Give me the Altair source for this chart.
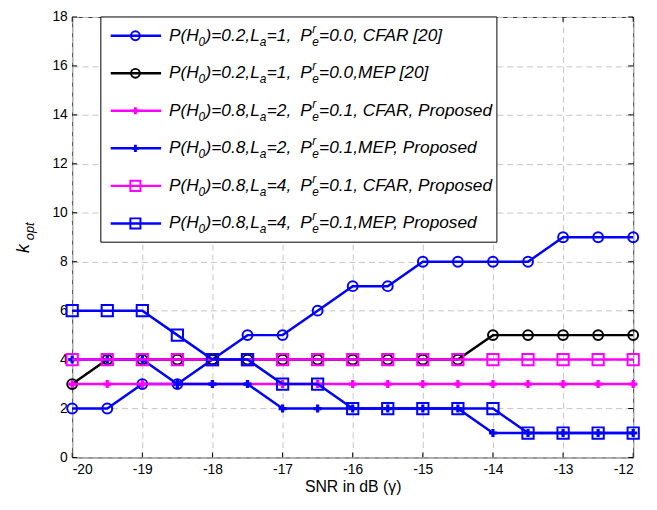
import altair as alt
import pandas as pd

# ---------------- data ----------------
snr = [-20, -19.5, -19, -18.5, -18, -17.5, -17, -16.5, -16, -15.5, -15,
       -14.5, -14, -13.5, -13, -12.5, -12]
k_cfar20 = [2, 2, 3, 3, 4, 5, 5, 6, 7, 7, 8, 8, 8, 8, 9, 9, 9]
k_mep20 = [3, 4, 4, 4, 4, 4, 4, 4, 4, 4, 4, 4, 5, 5, 5, 5, 5]
k_cfar_l2 = [3, 3, 3, 3, 3, 3, 3, 3, 3, 3, 3, 3, 3, 3, 3, 3, 3]
k_mep_l2 = [4, 4, 4, 3, 3, 3, 2, 2, 2, 2, 2, 2, 1, 1, 1, 1, 1]
k_cfar_l4 = [4, 4, 4, 4, 4, 4, 4, 4, 4, 4, 4, 4, 4, 4, 4, 4, 4]
k_mep_l4 = [6, 6, 6, 5, 4, 4, 3, 3, 2, 2, 2, 2, 2, 1, 1, 1, 1]

x_ticks = [-20, -19, -18, -17, -16, -15, -14, -13, -12]
y_ticks = [0, 2, 4, 6, 8, 10, 12, 14, 16, 18]

leg_ph0 = ["0.2", "0.2", "0.8", "0.8", "0.8", "0.8"]
leg_la = ["1", "1", "2", "2", "4", "4"]
leg_rest = ["0.0, CFAR [20]", "0.0,MEP [20]", "0.1, CFAR, Proposed",
            "0.1,MEP, Proposed", "0.1, CFAR, Proposed", "0.1,MEP, Proposed"]

series = [
    (k_cfar20, "#0000FF", "circle", False, 100),
    (k_mep20, "#000000", "circle", False, 100),
    (k_cfar_l2, "#FF00FF", "cross", True, 65),
    (k_mep_l2, "#0000FF", "cross", True, 65),
    (k_cfar_l4, "#FF00FF", "square", False, 130),
    (k_mep_l4, "#0000FF", "square", False, 130),
]

FONT = "Liberation Sans"
W, H = 568, 446

xscale = alt.Scale(domain=[-20, -12], nice=False, zero=False)
yscale = alt.Scale(domain=[0, 18], nice=False, zero=False)

X = alt.X("snr:Q", scale=xscale,
          axis=alt.Axis(values=x_ticks, title="SNR in dB (\u03b3)",
                        labelExpr="'' + datum.value", labelPadding=5,
                        titlePadding=2))
Y = alt.Y("k:Q", scale=yscale,
          axis=alt.Axis(values=y_ticks, title=None, labelPadding=5))

layers = []

# inward ticks (MATLAB style) on all four sides
xt = pd.DataFrame({"snr": x_ticks})
yt = pd.DataFrame({"k": y_ticks})
for y0, y1 in [(H, H - 5), (0, 5)]:
    layers.append(alt.Chart(xt).mark_rule(color="black", strokeWidth=1)
                  .encode(x=X, y=alt.value(y0), y2=alt.value(y1)))
for x0, x1 in [(0, 5), (W, W - 5)]:
    layers.append(alt.Chart(yt).mark_rule(color="black", strokeWidth=1)
                  .encode(y=Y, x=alt.value(x0), x2=alt.value(x1)))

for vals, color, shape, filled, size in series:
    df = pd.DataFrame({"snr": snr, "k": vals})
    base = alt.Chart(df)
    layers.append(base.mark_line(color=color, strokeWidth=2.5).encode(x=X, y=Y))
    layers.append(base.mark_point(shape=shape, color=color, filled=filled,
                                  size=size, strokeWidth=2, opacity=1)
                  .encode(x=X, y=Y))

# ---------------- legend (pixel layout relative to plot area) ----------------
OX, OY = 73, 14
layers.append(alt.Chart().mark_rect(fill="white", stroke="black", strokeWidth=1)
              .encode(x=alt.value(102 - OX), x2=alt.value(503 - OX),
                      y=alt.value(0), y2=alt.value(242 - OY)))

for i, (vals, color, shape, filled, size) in enumerate(series):
    cy = 33 + 38 * i - OY
    layers.append(alt.Chart().mark_rule(color=color, strokeWidth=2.5)
                  .encode(x=alt.value(112 - OX), x2=alt.value(163 - OX),
                          y=alt.value(cy)))
    layers.append(alt.Chart().mark_point(shape=shape, color=color, filled=filled,
                                         size=size * 0.8, strokeWidth=2, opacity=1)
                  .encode(x=alt.value(137 - OX), y=alt.value(cy)))
    base_y = cy + 5
    segs = [
        ("P(H", 171, base_y, 17.5),
        ("0", 201, base_y + 5, 12),
        (")=" + leg_ph0[i] + ",L", 208, base_y, 17.5),
        ("a", 263, base_y + 5, 12),
        ("=" + leg_la[i] + ",", 270, base_y, 17.5),
        ("P", 304, base_y, 17.5),
        ("r", 316, base_y - 8, 12),
        ("e", 316, base_y + 5, 12),
        ("=" + leg_rest[i], 323, base_y, 17.5),
    ]
    for txt, sx, sy, fs in segs:
        layers.append(alt.Chart().mark_text(text=txt, font=FONT, fontSize=fs,
                                            fontStyle="italic", align="left",
                                            baseline="alphabetic", color="black")
                      .encode(x=alt.value(sx - OX), y=alt.value(sy)))

# y-axis title k_opt (rotated)
layers.append(alt.Chart().mark_text(text="k", font=FONT, fontSize=18,
                                    fontStyle="italic", align="left",
                                    baseline="alphabetic", angle=270, color="black")
              .encode(x=alt.value(29 - OX), y=alt.value(253 - OY)))
layers.append(alt.Chart().mark_text(text="opt", font=FONT, fontSize=13,
                                    fontStyle="italic", align="left",
                                    baseline="alphabetic", angle=270, color="black")
              .encode(x=alt.value(34 - OX), y=alt.value(240 - OY)))

chart = alt.layer(*layers).properties(
    width=W, height=H,
    autosize=alt.AutoSizeParams(type="none"),
    padding={"left": 65, "top": 6, "right": 16, "bottom": 44},
    background="white",
).configure_view(
    stroke="#333333", strokeWidth=1
).configure_axis(
    domain=False, ticks=False,
    grid=True, gridColor="#c4c4c4", gridDash=[6, 4], gridWidth=1,
    labelFont=FONT, labelFontSize=14, labelColor="black",
    titleFont=FONT, titleFontSize=16, titleColor="black", titleFontWeight="normal",
)

chart.save("out.html", embed_options={"renderer": "svg", "actions": False})
